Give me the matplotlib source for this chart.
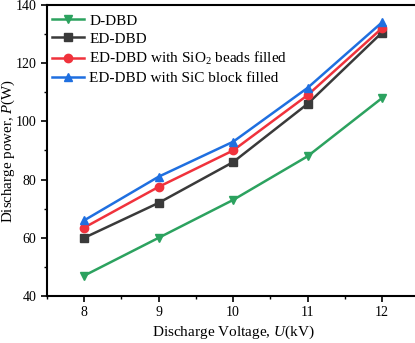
import matplotlib
matplotlib.use("Agg")
import matplotlib.pyplot as plt
from matplotlib.ticker import MultipleLocator

plt.rcParams['font.family'] = ['Liberation Serif', 'DejaVu Serif']
plt.rcParams['mathtext.fontset'] = 'custom'
plt.rcParams['mathtext.rm'] = 'Liberation Serif'
plt.rcParams['mathtext.it'] = 'Liberation Serif:italic'

voltage = [8, 9, 10, 11, 12]
d_dbd = [47, 60, 73, 88, 108]
ed_dbd = [60, 72, 86, 106, 130.5]
ed_sio2 = [63.5, 77.5, 90, 109, 132]
ed_sic = [66, 81, 93, 111.5, 134]
labels = ['D-DBD', 'ED-DBD', 'ED-DBD with SiO$_2$ beads filled', 'ED-DBD with SiC block filled']

fig = plt.figure(figsize=(4.15, 3.43), dpi=100)
axw = (415 - 47) / 415 + 0.01
ax = fig.add_axes([47/415, 47/343, axw, (296-5)/343])

ax.plot(voltage, d_dbd, color='#2ca25f', marker='v', ms=6, lw=1.8, label=labels[0])
ax.plot(voltage, ed_dbd, color='#3a3a3a', marker='s', ms=5.5, lw=1.8, label=labels[1])
ax.plot(voltage, ed_sio2, color='#f0323c', marker='o', ms=6, lw=1.8, label=labels[2])
ax.plot(voltage, ed_sic, color='#1f6fe0', marker='^', ms=6, lw=1.8, label=labels[3])

ax.set_xlim(7.5, 12.5)
ax.set_ylim(40, 140)
ax.xaxis.set_major_locator(MultipleLocator(1))
ax.xaxis.set_minor_locator(MultipleLocator(0.5))
ax.yaxis.set_major_locator(MultipleLocator(20))
ax.yaxis.set_minor_locator(MultipleLocator(10))
ax.tick_params(which='major', direction='out', length=4, width=1.2, labelsize=10)
ax.tick_params(which='minor', direction='out', length=2.5, width=1.0)
for s in ax.spines.values():
    s.set_linewidth(1.5)

ax.set_xlabel('Discharge Voltage, $\\it{U}$(kV)', fontsize=11, labelpad=3)
ax.set_ylabel('Discharge power, $\\it{P}$(W)', fontsize=10.8)
ax.yaxis.set_label_coords((17 - 47) / (axw * 415), 0.5)

ax.legend(loc='upper left', frameon=False, fontsize=11, handlelength=2.1,
          borderaxespad=0.1, labelspacing=0.28, handletextpad=0.35,
          bbox_to_anchor=(-0.008, 0.995))

fig.savefig('out.png', dpi=100)
